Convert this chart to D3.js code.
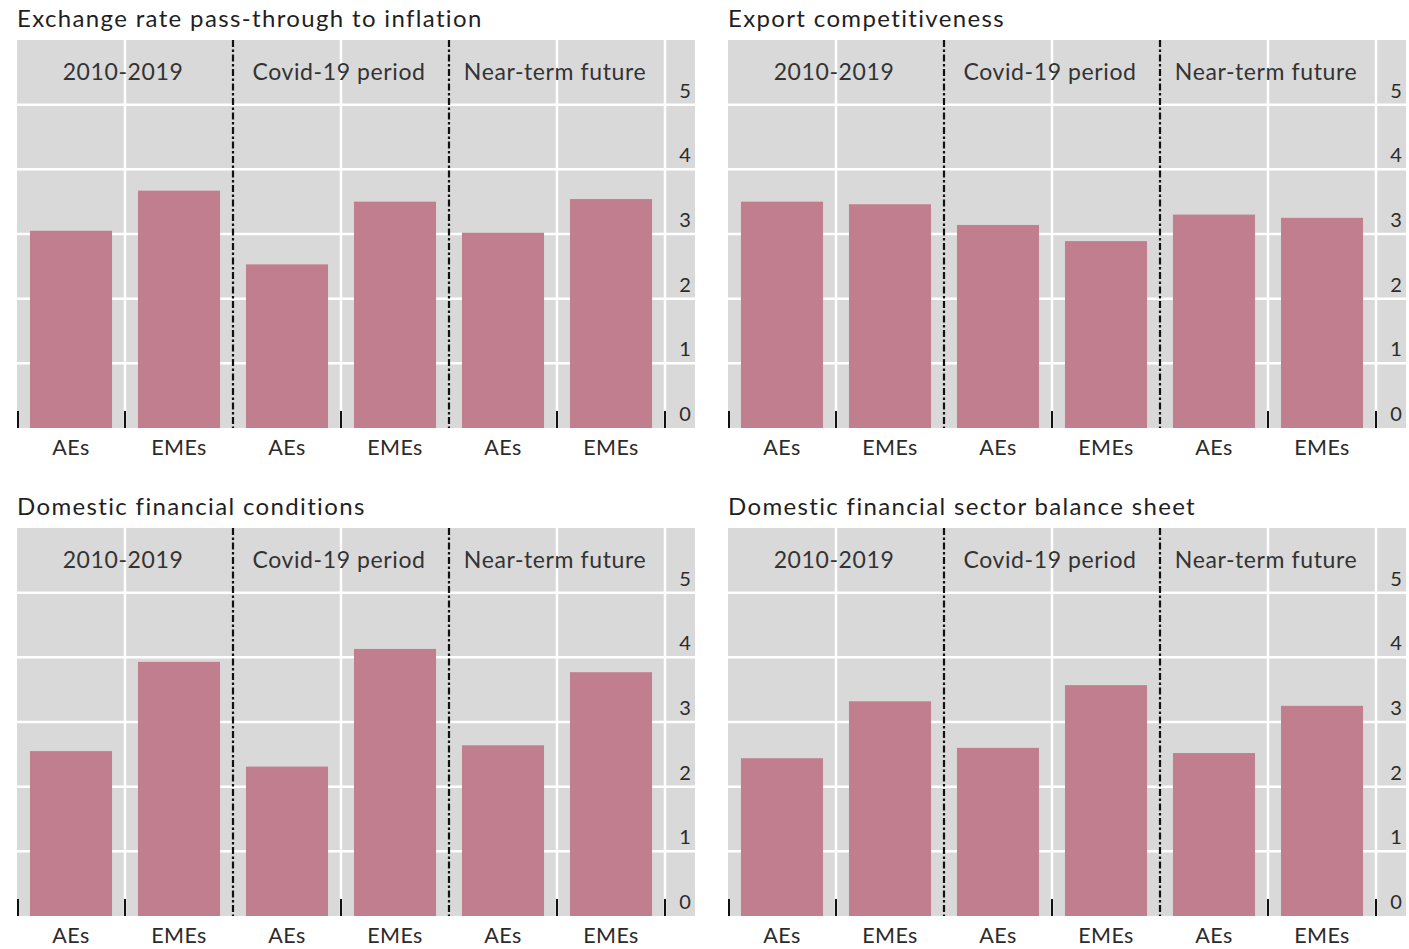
<!DOCTYPE html>
<html>
<head>
<meta charset="utf-8">
<script src="https://cdn.jsdelivr.net/npm/d3@7"></script>
<style>
  html, body { margin: 0; padding: 0; background: #ffffff; }
  svg { display: block; }
  text { font-family: Lato, "Open Sans", sans-serif; }
</style>
</head>
<body>
<svg id="chart" width="1409" height="949"></svg>
<script>
// ---- data ----
const panelTitles = [
  "Exchange rate pass-through to inflation",
  "Export competitiveness",
  "Domestic financial conditions",
  "Domestic financial sector balance sheet"
];
const periods = ["2010-2019", "Covid-19 period", "Near-term future"];
const groups = ["AEs", "EMEs"];
const categories = [
  "2010-2019|AEs", "2010-2019|EMEs",
  "Covid-19 period|AEs", "Covid-19 period|EMEs",
  "Near-term future|AEs", "Near-term future|EMEs"
];
const tickValues = [0, 1, 2, 3, 4, 5];
const exchangeRatePassThrough = [3.05, 3.67, 2.53, 3.50, 3.02, 3.54];
const exportCompetitiveness   = [3.50, 3.46, 3.14, 2.89, 3.30, 3.25];
const financialConditions     = [2.55, 3.93, 2.31, 4.13, 2.64, 3.77];
const balanceSheet            = [2.44, 3.32, 2.60, 3.57, 2.52, 3.25];
const panelValues = [exchangeRatePassThrough, exportCompetitiveness, financialConditions, balanceSheet];

// ---- layout ----
const svg = d3.select("#chart");
const plotW = 648, labelW = 30, plotH = 388;
const panelX = [17, 728, 17, 728];
const panelY = [40, 40, 528, 528];
const gray = "#d9d9d9", barColor = "#c17e8f", textColor = "#2b2b2b";

panelValues.forEach((vals, p) => {
  const g = svg.append("g").attr("transform", `translate(${panelX[p]},${panelY[p]})`);
  const x = d3.scaleBand().domain(categories).range([0, plotW]).paddingInner(0.24).paddingOuter(0.12);
  const y = d3.scaleLinear().domain([0, 6]).range([plotH, 0]);
  const step = x.step();

  // title
  g.append("text").attr("x", 0).attr("y", -13)
    .attr("font-size", 24).attr("letter-spacing", 1.35).attr("fill", "#1f1f1f").text(panelTitles[p]);

  // background
  g.append("rect").attr("x", 0).attr("y", 0).attr("width", plotW + labelW).attr("height", plotH).attr("fill", gray);

  // horizontal grid
  g.selectAll("line.hgrid").data(tickValues.filter(v => v > 0)).join("line")
    .attr("x1", 0).attr("x2", plotW + labelW)
    .attr("y1", d => y(d)).attr("y2", d => y(d))
    .attr("stroke", "#ffffff").attr("stroke-width", 2.5);

  // vertical white separators (within period groups and right edge)
  const boundaries = d3.range(0, categories.length + 1).map(i => i * step);
  g.selectAll("line.vgrid").data([1, 3, 5, 6]).join("line")
    .attr("x1", i => boundaries[i]).attr("x2", i => boundaries[i])
    .attr("y1", 0).attr("y2", plotH)
    .attr("stroke", "#ffffff").attr("stroke-width", 2.5);

  // bars
  g.selectAll("rect.bar").data(vals).join("rect")
    .attr("x", (d, i) => x(categories[i]))
    .attr("width", x.bandwidth())
    .attr("y", d => y(d)).attr("height", d => y(0) - y(d))
    .attr("fill", barColor);

  // dashed period separators
  g.selectAll("line.sep").data([2, 4]).join("line")
    .attr("x1", i => boundaries[i]).attr("x2", i => boundaries[i])
    .attr("y1", 0).attr("y2", plotH)
    .attr("stroke", "#111").attr("stroke-width", 2.2)
    .attr("stroke-dasharray", "7,2.5,2.5,2.5");

  // small tick marks at bottom
  g.selectAll("line.tick").data([0, 1, 3, 5, 6]).join("line")
    .attr("x1", i => boundaries[i] + (i === 0 ? 1 : 0)).attr("x2", i => boundaries[i] + (i === 0 ? 1 : 0))
    .attr("y1", plotH - 17).attr("y2", plotH)
    .attr("stroke", "#111").attr("stroke-width", 2);

  // period labels
  g.selectAll("text.period").data(periods).join("text")
    .attr("x", (d, i) => boundaries[i * 2 + 1] - 2)
    .attr("y", 31)
    .attr("text-anchor", "middle").attr("dominant-baseline", "central")
    .attr("font-size", 23).attr("letter-spacing", 0.6).attr("fill", "#333")
    .text(d => d);

  // y tick labels (right side, above gridlines)
  g.selectAll("text.ytick").data(tickValues).join("text")
    .attr("x", plotW + 20).attr("y", d => y(d) - 15)
    .attr("text-anchor", "middle").attr("dominant-baseline", "central")
    .attr("font-size", 20).attr("fill", textColor)
    .text(d => d);

  // category labels via axis
  const ax = g.append("g").attr("transform", `translate(0,${plotH})`)
    .call(d3.axisBottom(x).tickSize(0).tickPadding(12).tickFormat(d => d.split("|")[1]));
  ax.select(".domain").remove();
  ax.selectAll("text").attr("font-size", 21.5).attr("letter-spacing", 0.4).attr("fill", textColor)
    .attr("font-family", "Lato, 'Open Sans', sans-serif");
});
</script>
</body>
</html>
